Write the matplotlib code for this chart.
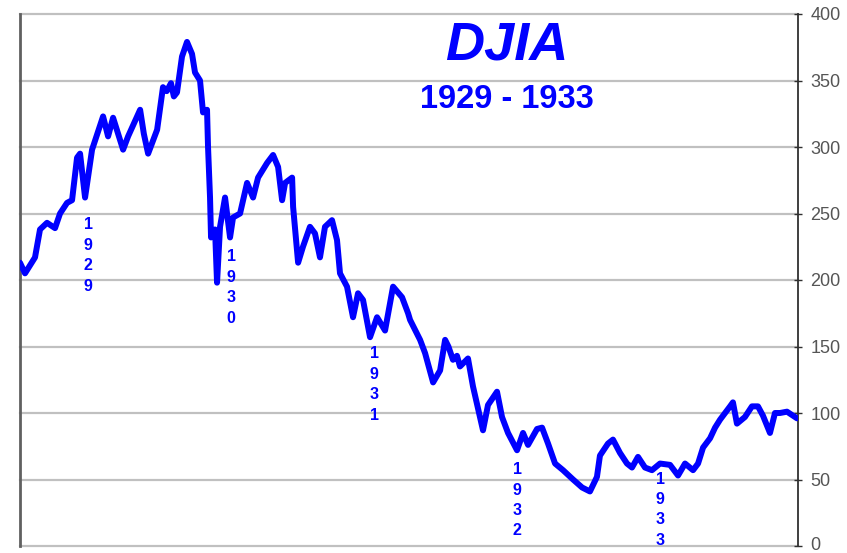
import matplotlib
matplotlib.use("Agg")
import matplotlib.pyplot as plt
import matplotlib.transforms as mtransforms

# Time (fractional year) and DJIA closing level
years = [1928.524, 1928.559, 1928.629, 1928.664, 1928.713, 1928.769, 1928.804, 1928.853,
         1928.888, 1928.923, 1928.944, 1928.979, 1929.028, 1929.105, 1929.140, 1929.175,
         1929.245, 1929.280, 1929.364, 1929.390, 1929.420, 1929.483, 1929.524, 1929.550,
         1929.580, 1929.600, 1929.622, 1929.657,
         1929.692, 1929.727, 1929.748, 1929.783, 1929.804, 1929.832, 1929.839, 1929.853,
         1929.860, 1929.888, 1929.902, 1929.923, 1929.958, 1929.993, 1930.014, 1930.063,
         1930.112, 1930.154, 1930.189, 1930.252, 1930.294, 1930.329, 1930.357, 1930.378,
         1930.427, 1930.434, 1930.469, 1930.503, 1930.552, 1930.587, 1930.622, 1930.657,
         1930.706, 1930.741, 1930.762, 1930.811, 1930.853, 1930.888, 1930.923, 1930.972,
         1931.021, 1931.077, 1931.133, 1931.196, 1931.238, 1931.252, 1931.322, 1931.357,
         1931.413, 1931.462, 1931.497, 1931.520, 1931.552, 1931.580, 1931.601, 1931.620,
         1931.657, 1931.692, 1931.741,
         1931.762, 1931.797, 1931.860, 1931.895, 1931.937, 1932.000, 1932.042, 1932.077,
         1932.140, 1932.175, 1932.217, 1932.266, 1932.322, 1932.392, 1932.455, 1932.510,
         1932.559, 1932.580, 1932.636, 1932.671, 1932.720, 1932.769, 1932.804, 1932.846,
         1932.895, 1932.944, 1933.000, 1933.070, 1933.126, 1933.175, 1933.231, 1933.266,
         1933.301, 1933.350, 1933.385, 1933.420, 1933.455, 1933.490, 1933.510, 1933.538,
         1933.594, 1933.643, 1933.685, 1933.720, 1933.769, 1933.804, 1933.839, 1933.888,
         1933.930, 1933.958]
djia = [213, 205, 217, 238, 243, 239, 250, 258,
        260, 292, 295, 262, 298, 323, 308, 322,
        298, 308, 328, 310, 295, 313, 345, 342,
        348, 338, 341, 368,
        379, 370, 356, 350, 326, 328, 300, 262,
        232, 238, 198, 240, 262, 232, 247, 250,
        273, 262, 277, 288, 294, 285, 260, 273,
        277, 255, 213, 225, 240, 235, 217, 240,
        245, 230, 205, 195, 172, 190, 185, 157,
        172, 162, 195, 187, 175, 170, 155, 145,
        123, 132, 155, 150, 140, 143, 135, 137,
        141, 120, 97,
        87, 106, 116, 97, 85, 72, 85, 76,
        88, 89, 77, 62, 57, 50, 44, 41,
        52, 68, 77, 80, 70, 62, 59, 67,
        59, 57, 62, 61, 53, 62, 57, 62,
        74, 81, 89, 95, 100, 105, 108, 92,
        97, 105, 105, 98, 85, 100, 100, 101,
        98, 96]

y_ticks = [0, 50, 100, 150, 200, 250, 300, 350, 400]
year_labels = ["1929", "1930", "1931", "1932", "1933"]
year_label_tops = [247, 223, 150, 63, 56]

title = "DJIA"
subtitle = "1929 - 1933"

fig = plt.figure(figsize=(8.47, 5.53), dpi=100)
ax = fig.add_axes([20 / 847, 7 / 553, 778 / 847, 532 / 553])
ax.set_xlim(1928.524, 1933.965)
ax.set_ylim(0, 400)

for v in y_ticks:
    ax.axhline(v, color="#c0c0c0", lw=1.6, zorder=1, clip_on=False)

ax.plot(years, djia, color="#0000ff", lw=4.3, solid_joinstyle="round",
        solid_capstyle="round", zorder=3)

for lab, top in zip(year_labels, year_label_tops):
    ax.text(int(lab), top, "\n".join(lab), ha="center", va="top",
            color="#0000ff", fontsize=11.5, fontweight="bold",
            family="Liberation Sans", linespacing=1.45, zorder=4)

ax.text(0.626, 0.94, title, transform=ax.transAxes, ha="center", va="center",
        color="#0000ff", fontsize=39, fontweight="bold", style="italic",
        family="Liberation Sans")
ax.text(0.626, 0.84, subtitle, transform=ax.transAxes, ha="center", va="center",
        color="#0000ff", fontsize=23.5, fontweight="bold",
        family="Liberation Sans")

for s in ["top", "bottom"]:
    ax.spines[s].set_visible(False)
ax.spines["left"].set_color("#606060")
ax.spines["left"].set_linewidth(2)
ax.spines["right"].set_color("#303030")
ax.spines["right"].set_linewidth(1.3)

ax.set_xticks([])
ax.yaxis.tick_right()
ax.set_yticks(y_ticks)
ax.set_yticklabels([str(v) for v in y_ticks])
ax.tick_params(axis="y", direction="inout", length=6, width=1, color="#303030",
               labelsize=13, labelcolor="#555555", pad=6)
labels = ax.get_yticklabels()
for t in labels:
    t.set_family("Liberation Sans")
# nudge the bottom "0" label up slightly so it stays inside the canvas
labels[0].set_transform(labels[0].get_transform() +
                        mtransforms.ScaledTranslation(0, 3 / 100, fig.dpi_scale_trans))

fig.savefig("out.png", dpi=100, facecolor="white")
